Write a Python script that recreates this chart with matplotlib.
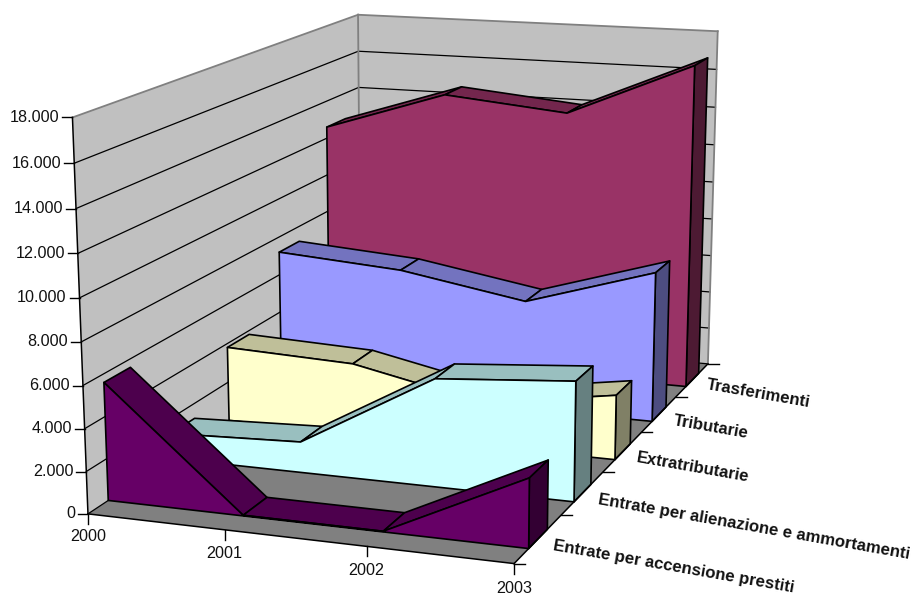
import numpy as np
import matplotlib
matplotlib.use("Agg")
import matplotlib.pyplot as plt
from matplotlib.patches import Polygon

""" ------------------- Data ------------------- """

years = ["2000", "2001", "2002", "2003"]
# front to back
series_names = ["Entrate per accensione prestiti", "Entrate per alienazione e ammortamenti",
                "Extratributarie", "Tributarie", "Trasferimenti"]
prestiti = [5600, 30, 30, 3200]
alienazione = [1250, 1500, 5200, 5700]
extratributarie = [3800, 3550, 2200, 3200]
tributarie = [7200, 6750, 5650, 7650]
trasferimenti = [12600, 14700, 14100, 16900]
y_ticks = [0, 2000, 4000, 6000, 8000, 10000, 12000, 14000, 16000, 18000]

""" ------------------- Styles ------------------- """

face_colors = ["#660066", "#CCFFFF", "#FFFFCC", "#9999FF", "#993366"]
top_colors = ["#4D004D", "#99BFBF", "#BFBF99", "#7373BF", "#73264D"]
side_colors = ["#330033", "#668080", "#808066", "#4D4D80", "#4D1A33"]
wall_color = "#C0C0C0"
floor_color = "#808080"

# series label anchor (pixels) and rotation
label_anchor = [(553, 546), (598, 500), (637, 458), (674, 421), (707, 385)]
label_rotation = -10
label_size = 12.1
tick_size = 11.6

""" ------------------- Camera ------------------- """

# corners of the chart box (across, depth, height) and where they fall on the page
box_world = [(0, 0, 0), (0, 0, 1), (1, 0, 0), (0, 1, 0), (0, 1, 1), (1, 1, 0), (1, 1, 1)]
box_pixel = [(88, 512.5), (72.5, 117.5), (514, 565), (360.7, 335), (358, 14), (708, 362), (717.7, 32)]


def fit_camera(world, pixel):
  A = []
  b = []
  for (X, Y, Z), (px, py) in zip(world, pixel):
    A.append([X, Y, Z, 1, 0, 0, 0, 0, -px*X, -px*Y, -px*Z])
    A.append([0, 0, 0, 0, X, Y, Z, 1, -py*X, -py*Y, -py*Z])
    b += [px, py]
  m = np.linalg.lstsq(np.array(A, dtype=float), np.array(b, dtype=float), rcond=None)[0]
  return np.append(m, 1.0).reshape(3, 4)


camera = fit_camera(box_world, box_pixel)
y_max = y_ticks[-1]
n_series = len(series_names)
n_years = len(years)
gap = 0.3  # gap depth 150%: each band takes 40% of its slot


def project(u, v, value):
  p = camera @ np.array([u, v, value/y_max, 1.0])
  return p[0]/p[2], p[1]/p[2]


def quad(ax, points, color, edge="black", lw=1.2, zorder=2):
  ax.add_patch(Polygon(points, closed=True, facecolor=color, edgecolor=edge, linewidth=lw,
                       joinstyle="round", zorder=zorder))


""" ------------------- Plot ------------------- """

fig = plt.figure(figsize=(9.17, 5.95), dpi=100)
ax = fig.add_axes([0, 0, 1, 1])
ax.set_xlim(0, 917)
ax.set_ylim(595, 0)
ax.axis("off")
plt.rcParams["font.family"] = ["Liberation Sans", "DejaVu Sans"]

# walls and floor
quad(ax, [project(0, 0, 0), project(0, 0, y_max), project(0, 1, y_max), project(0, 1, 0)], wall_color, edge="none", zorder=1)
quad(ax, [project(0, 1, 0), project(0, 1, y_max), project(1, 1, y_max), project(1, 1, 0)], wall_color, edge="none", zorder=1)
quad(ax, [project(0, 0, 0), project(1, 0, 0), project(1, 1, 0), project(0, 1, 0)], floor_color, edge="none", zorder=1)

# gridlines on the two walls, then the frame
for t in y_ticks[:-1]:
  a, b, c = project(0, 0, t), project(0, 1, t), project(1, 1, t)
  ax.plot([a[0], b[0], c[0]], [a[1], b[1], c[1]], color="black", lw=0.9, zorder=1.5)
for start, end in [((0, 0, y_max), (0, 1, y_max)), ((0, 1, y_max), (1, 1, y_max)),
                   ((1, 1, y_max), (1, 1, 0)), ((0, 1, 0), (0, 1, y_max))]:
  a, b = project(*start), project(*end)
  ax.plot([a[0], b[0]], [a[1], b[1]], color="#808080", lw=1.3, zorder=1.5)

# areas from the back to the front
all_series = [prestiti, alienazione, extratributarie, tributarie, trasferimenti]
us = [i/(n_years - 1) for i in range(n_years)]
for k in range(n_series - 1, -1, -1):
  values = all_series[k]
  vf = (k + gap)/n_series
  vb = (k + 1 - gap)/n_series
  for i in range(n_years - 1):
    quad(ax, [project(us[i], vf, values[i]), project(us[i], vb, values[i]),
              project(us[i + 1], vb, values[i + 1]), project(us[i + 1], vf, values[i + 1])], top_colors[k])
  quad(ax, [project(1, vf, 0), project(1, vb, 0), project(1, vb, values[-1]), project(1, vf, values[-1])], side_colors[k])
  front = [project(u, vf, val) for u, val in zip(us, values)]
  quad(ax, front + [project(1, vf, 0), project(0, vf, 0)], face_colors[k])

# axis lines
for start, end in [((0, 0, 0), (0, 0, y_max)), ((0, 0, 0), (1, 0, 0)), ((1, 0, 0), (1, 1, 0))]:
  a, b = project(*start), project(*end)
  ax.plot([a[0], b[0]], [a[1], b[1]], color="black", lw=1.1, zorder=3)

# value axis
for t in y_ticks:
  x, y = project(0, 0, t)
  ax.plot([x - 10, x], [y, y], color="black", lw=1.0, zorder=3)
  ax.text(x - 13, y, f"{t:,}".replace(",", "."), ha="right", va="center", fontsize=tick_size, color="#111111")

# category axis
for u, year in zip(us, years):
  x, y = project(u, 0, 0)
  ax.plot([x, x], [y, y + 10], color="black", lw=1.0, zorder=3)
  ax.text(x, y + 23 + 2*u, year, ha="center", va="center", fontsize=tick_size, color="#111111")

# depth axis
for k in range(n_series + 1):
  x, y = project(1, k/n_series, 0)
  ax.plot([x, x + 11], [y, y], color="black", lw=1.0, zorder=3)
for name, (x, y) in zip(series_names, label_anchor):
  ax.text(x, y, name, ha="left", va="center", rotation=label_rotation, rotation_mode="anchor",
          fontsize=label_size, fontweight="bold", color="#111111")

fig.savefig("out.png", dpi=100)
